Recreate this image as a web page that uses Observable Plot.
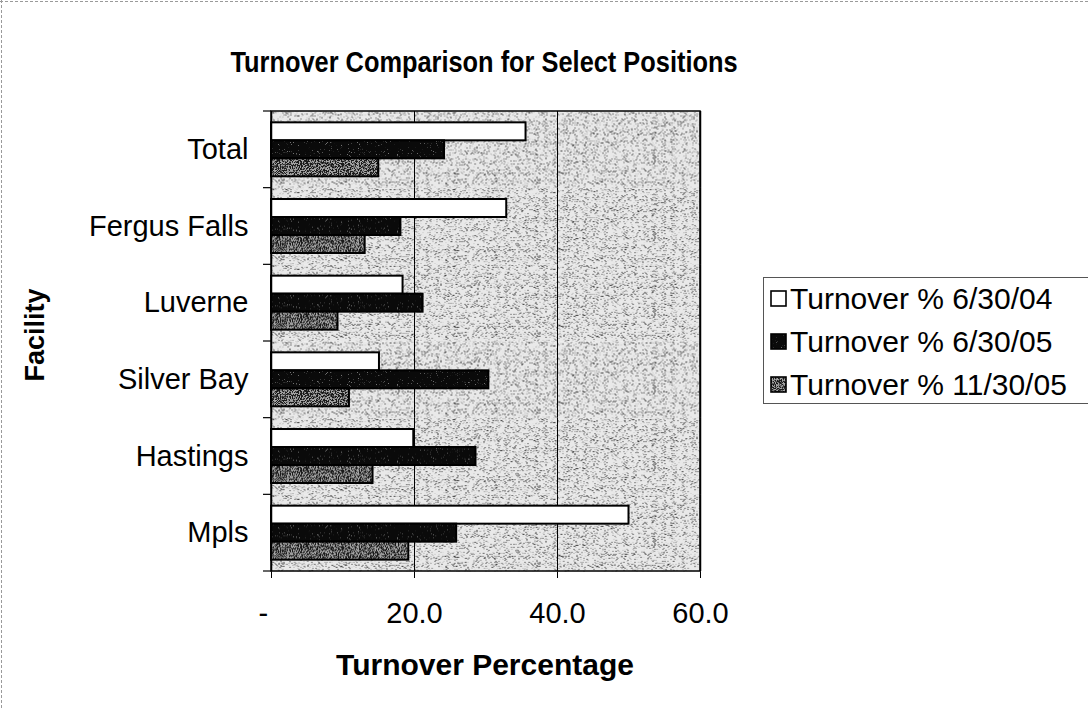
<!DOCTYPE html>
<html>
<head>
<meta charset="utf-8">
<script src="https://cdn.jsdelivr.net/npm/d3@7"></script>
<script src="https://cdn.jsdelivr.net/npm/@observablehq/plot@0.6"></script>
<style>
  body { margin: 0; background: #fff; }
  #wrap { position: relative; width: 1088px; height: 708px; overflow: hidden; background: #fff;
          font-family: "Liberation Sans", Arial, Helvetica, sans-serif; color: #000; }
  #frameTop { position: absolute; left: 0; top: 1px; width: 1088px; border-top: 1px dashed #9a9a9a; }
  #frameLeft { position: absolute; left: 1px; top: 0; height: 708px; border-left: 1px dashed #9a9a9a; }
  #title { position: absolute; left: 0; width: 968px; top: 44px; text-align: center;
           font-weight: bold; font-size: 29px; line-height: 36px; transform: scaleX(0.875); transform-origin: 484px 50%; }
  #xtitle { position: absolute; left: 0; width: 970px; top: 647px; text-align: center;
            font-weight: bold; font-size: 30px; line-height: 36px; }
  #ytitle { position: absolute; left: -65px; top: 317px; width: 200px; text-align: center;
            font-weight: bold; font-size: 27px; line-height: 36px; transform: rotate(-90deg); }
  #chart { position: absolute; left: 0; top: 0; }
  #legend { position: absolute; left: 763px; top: 277px; width: 360px; height: 127px;
            border: 1px solid #555; background: #fff; box-sizing: border-box; padding-top: 0px; }
  .li { display: flex; align-items: center; height: 43px; font-size: 30px; white-space: nowrap; }
  .li:first-child { margin-top: -1px; }
  .li svg { margin-left: 6px; margin-right: 3px; flex: none; }
</style>
</head>
<body>
<div id="wrap">
  <div id="chart"></div>
  <div id="frameTop"></div>
  <div id="frameLeft"></div>
  <div id="title">Turnover Comparison for Select Positions</div>
  <div id="xtitle">Turnover Percentage</div>
  <div id="ytitle">Facility</div>
  <div id="legend"></div>
</div>
<script>
// ---- data ----
const facilities = ["Total", "Fergus Falls", "Luverne", "Silver Bay", "Hastings", "Mpls"];
const seriesNames = ["Turnover % 6/30/04", "Turnover % 6/30/05", "Turnover % 11/30/05"];
const turnover0604 = [35.6, 32.9, 18.4, 15.1, 19.9, 50.0];
const turnover0605 = [24.2, 18.1, 21.2, 30.4, 28.6, 25.9];
const turnover1105 = [15.0, 13.1, 9.3, 10.9, 14.2, 19.2];
const xTicks = [0, 20, 40, 60];
const xTickLabels = ["-\u00a0\u00a0", "20.0", "40.0", "60.0"];
const gridValues = [20, 40];
const edgeValues = [0, 60];

// ---- styles ----
const seriesFills = ["#ffffff", "url(#texDark)", "url(#texGray)"];

const columns = [turnover0604, turnover0605, turnover1105];
const rows = [];
facilities.forEach((f, i) => {
  seriesNames.forEach((s, j) => rows.push({facility: f, series: s, value: columns[j][i]}));
});

const chart = Plot.plot({
  width: 1088,
  height: 708,
  marginLeft: 271,
  marginRight: 388,
  marginTop: 111,
  marginBottom: 137,
  style: {fontFamily: "'Liberation Sans', Arial, sans-serif", fontSize: "29px", color: "#000", background: "transparent"},
  x: {
    domain: [0, 60],
    ticks: xTicks,
    tickFormat: d => xTickLabels[xTicks.indexOf(d)],
    tickSize: 7,
    tickPadding: 24,
    label: null
  },
  fy: {domain: facilities, padding: 0, round: false, label: null, tickSize: 0, tickPadding: 23},
  y: {domain: seriesNames, paddingInner: 0, paddingOuter: 0.63, round: false, axis: null},
  color: {type: "ordinal", domain: seriesNames, range: seriesFills},
  marks: [
    Plot.frame({fill: "url(#texBg)"}),
    Plot.ruleX(gridValues, {stroke: "#000", strokeWidth: 1}),
    Plot.barX(rows, {fy: "facility", y: "series", x: "value", fill: "series", stroke: "#000", strokeWidth: 2}),
    Plot.ruleX(edgeValues, {stroke: "#000", strokeWidth: 1.5})
  ]
});

document.getElementById("chart").appendChild(chart);

// texture definitions
const svg = d3.select(chart);
svg.insert("defs", ":first-child").html(`
  <filter id="speckBg" filterUnits="userSpaceOnUse" x="0" y="0" width="256" height="256" color-interpolation-filters="sRGB">
    <feTurbulence type="fractalNoise" baseFrequency="1.1" numOctaves="2" seed="7" stitchTiles="stitch"/>
    <feColorMatrix type="matrix" values="0 0 0 0 0.2  0 0 0 0 0.2  0 0 0 0 0.2  9 0 0 0 -5.3"/>
  </filter>
  <filter id="speckGray" filterUnits="userSpaceOnUse" x="0" y="0" width="256" height="256" color-interpolation-filters="sRGB">
    <feTurbulence type="fractalNoise" baseFrequency="1.1" numOctaves="2" seed="3" stitchTiles="stitch"/>
    <feColorMatrix type="matrix" values="0 0 0 0 0.1  0 0 0 0 0.1  0 0 0 0 0.1  8 0 0 0 -3.5"/>
  </filter>
  <filter id="speckDark" filterUnits="userSpaceOnUse" x="0" y="0" width="256" height="256" color-interpolation-filters="sRGB">
    <feTurbulence type="fractalNoise" baseFrequency="1.1" numOctaves="2" seed="11" stitchTiles="stitch"/>
    <feColorMatrix type="matrix" values="0 0 0 0 0.45  0 0 0 0 0.45  0 0 0 0 0.45  8 0 0 0 -5.4"/>
  </filter>
  <pattern id="texBg" patternUnits="userSpaceOnUse" width="256" height="256">
    <rect width="256" height="256" fill="#e9e9e9"/>
    <rect width="256" height="256" filter="url(#speckBg)"/>
  </pattern>
  <pattern id="texGray" patternUnits="userSpaceOnUse" width="256" height="256">
    <rect width="256" height="256" fill="#a4a4a4"/>
    <rect width="256" height="256" filter="url(#speckGray)"/>
  </pattern>
  <pattern id="texDark" patternUnits="userSpaceOnUse" width="256" height="256">
    <rect width="256" height="256" fill="#0a0a0a"/>
    <rect width="256" height="256" filter="url(#speckDark)"/>
  </pattern>
`);

// plot-area border and category boundary ticks, from Plot's own scales
const sx = chart.scale("x");
const sfy = chart.scale("fy");
const x0 = sx.apply(0), x1 = sx.apply(60);
let yTop = 111, yBot = 571, bounds = [];
if (sfy) {
  yTop = Math.min(...sfy.range); yBot = Math.max(...sfy.range);
  bounds = facilities.map(f => sfy.apply(f)).concat([yBot]);
}
svg.append("rect").attr("x", x0).attr("y", yTop).attr("width", x1 - x0).attr("height", yBot - yTop)
  .attr("fill", "none").attr("stroke", "#000").attr("stroke-width", 1.5);
svg.append("g").selectAll("line").data(bounds).join("line")
  .attr("x1", x0 - 8).attr("x2", x0).attr("y1", d => d).attr("y2", d => d)
  .attr("stroke", "#000").attr("stroke-width", 1.2);

// legend
const legend = d3.select("#legend");
seriesNames.forEach((s, i) => {
  const item = legend.append("div").attr("class", "li");
  const sw = item.append("svg").attr("width", 17).attr("height", 17);
  sw.append("rect").attr("x", 1).attr("y", 1).attr("width", 15).attr("height", 15)
    .attr("fill", seriesFills[i]).attr("stroke", "#000").attr("stroke-width", 1.6);
  item.append("span").text(s);
});
</script>
</body>
</html>
